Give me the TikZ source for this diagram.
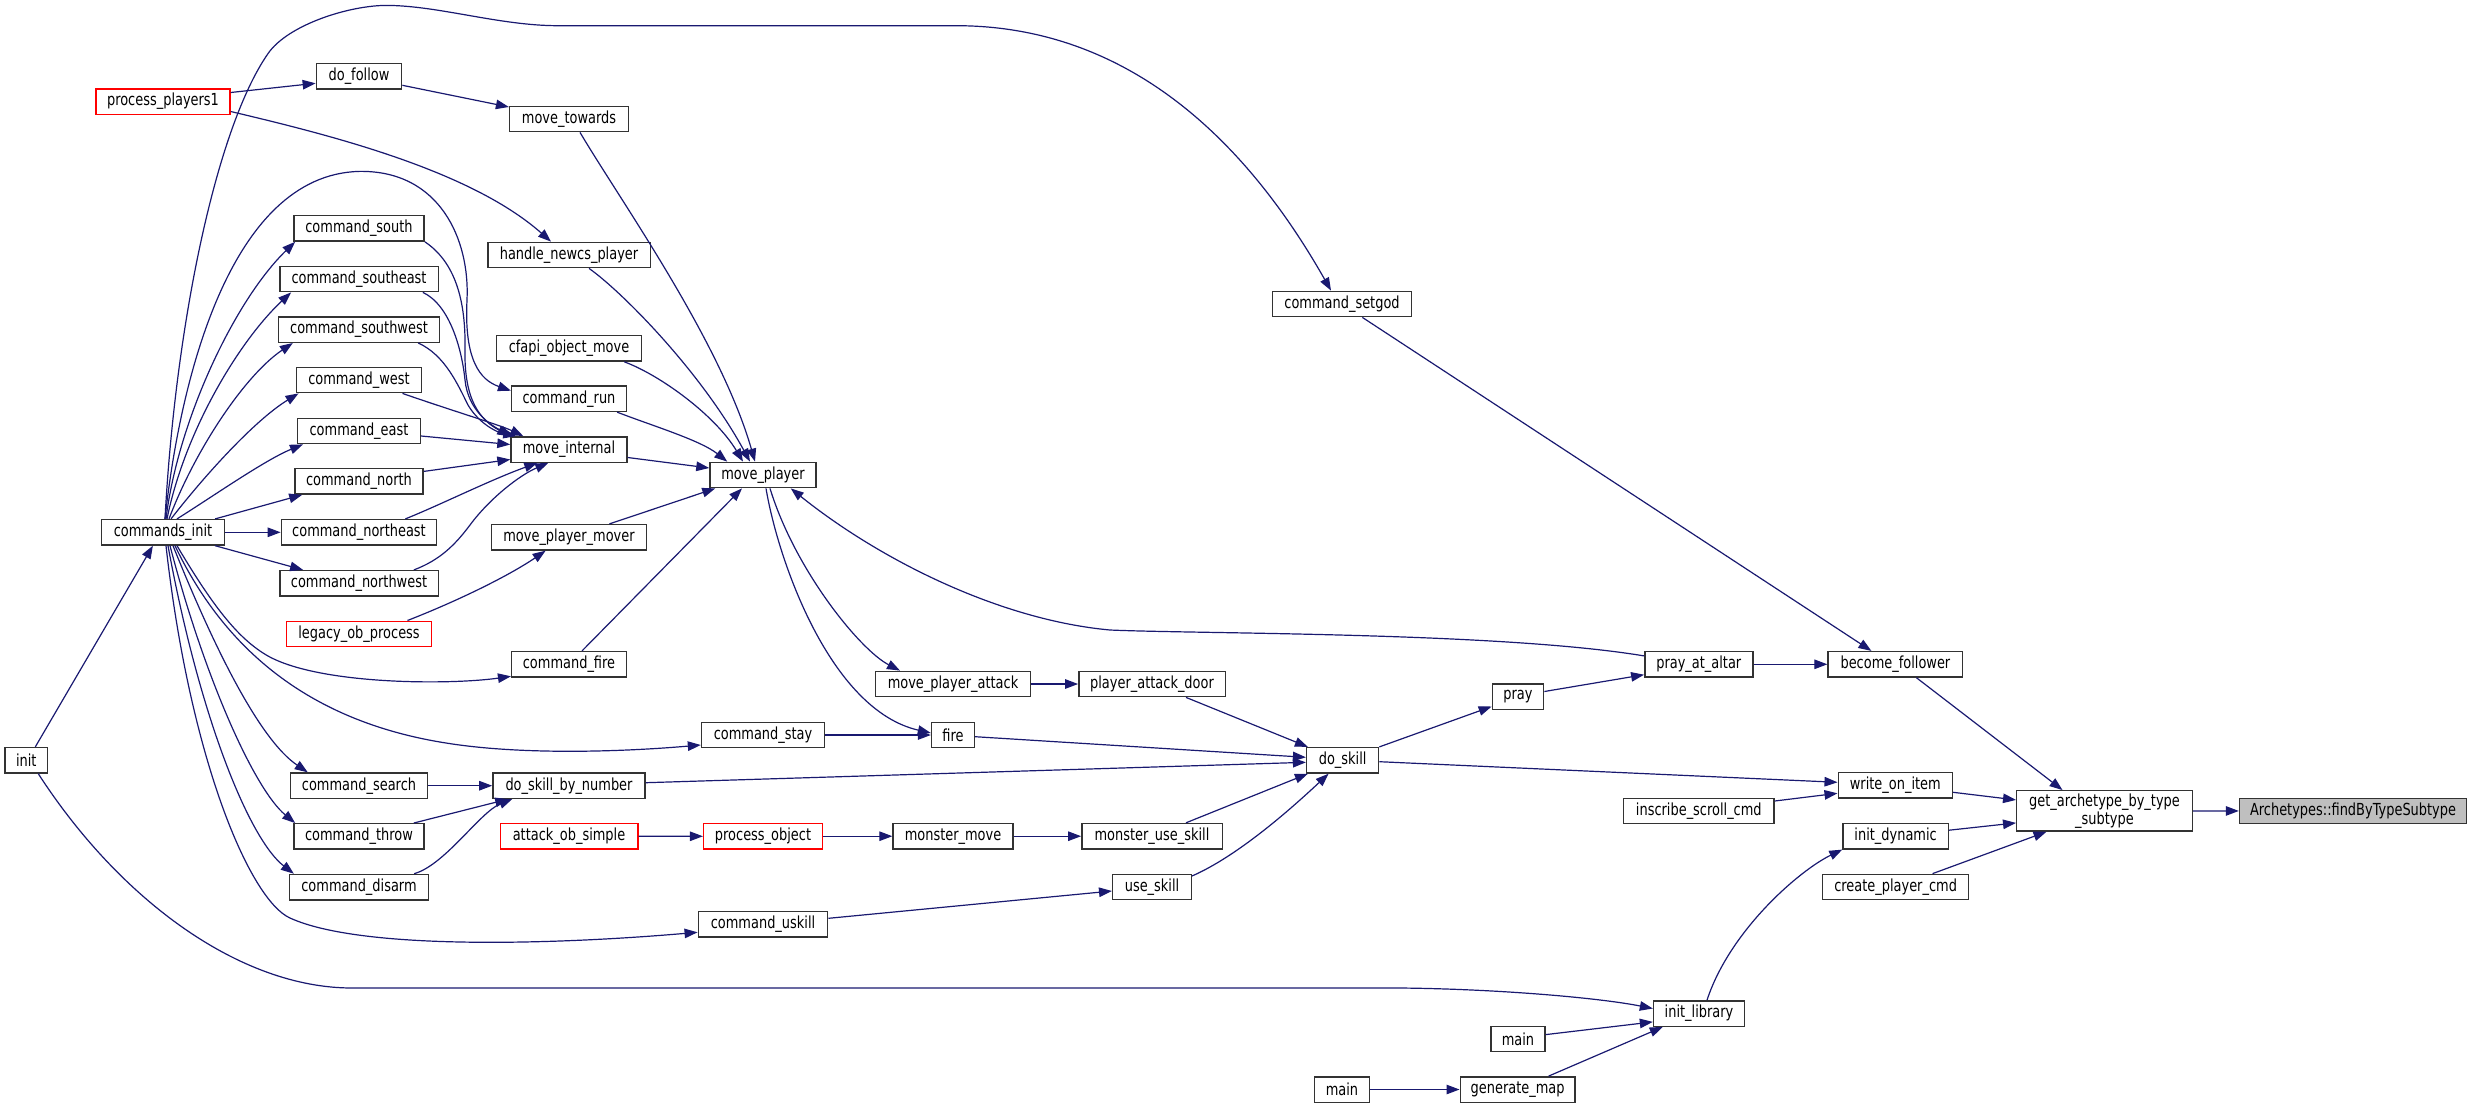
\documentclass[tikz,border=0pt]{standalone}
\usepackage{fontspec}
\setmainfont{DejaVu Sans}[FakeStretch=0.78]
\usetikzlibrary{arrows.meta,calc}
\definecolor{edgec}{HTML}{191970}
\definecolor{boxc}{HTML}{333333}
\definecolor{rootf}{HTML}{BFBFBF}
\begin{document}
\begin{tikzpicture}[x=1pt,y=-1pt,
  box/.style={draw=boxc, line width=1.4pt, fill=white, minimum height=25.4pt, inner sep=0pt, font=\fontsize{16.6}{14.7}\selectfont},
  redbox/.style={box, draw=red},
  edge/.style={draw=edgec, line width=1.2pt, -{Triangle[length=13pt,width=9.5pt]}}]
\useasboundingbox (0,0) rectangle (2472,1108);
% nodes
\node[box,minimum width=42.9] (init) at (26.3,760.3) {init};
\node[redbox,minimum width=134] (pp1) at (163,101.5) {process\_players1};
\node[box,minimum width=122.8] (cinit) at (163,532.3) {commands\_init};
\node[box,minimum width=85.3] (dofollow) at (359,76.3) {do\_follow};
\node[box,minimum width=130.3] (csouth) at (359,228.4) {command\_south};
\node[box,minimum width=158.4] (cse) at (359,279) {command\_southeast};
\node[box,minimum width=161] (csw) at (359,329.6) {command\_southwest};
\node[box,minimum width=125.5] (cwest) at (359,380) {command\_west};
\node[box,minimum width=122.7] (ceast) at (359,431) {command\_east};
\node[box,minimum width=128.2] (cnorth) at (359,481.4) {command\_north};
\node[box,minimum width=155.3] (cne) at (359,532.3) {command\_northeast};
\node[box,minimum width=158.4] (cnw) at (359,583.3) {command\_northwest};
\node[redbox,minimum width=145.5] (legacy) at (359,633.9) {legacy\_ob\_process};
\node[box,minimum width=137.1] (csearch) at (359,785.7) {command\_search};
\node[box,minimum width=130.3] (cthrow) at (359,836.4) {command\_throw};
\node[box,minimum width=138.9] (cdisarm) at (359,887.1) {command\_disarm};
\node[box,minimum width=118.8] (mtowards) at (569,119) {move\_towards};
\node[box,minimum width=162.4] (hnp) at (569,255) {handle\_newcs\_player};
\node[box,minimum width=145.1] (cfapi) at (569,348.4) {cfapi\_object\_move};
\node[box,minimum width=114.7] (crun) at (569,398.7) {command\_run};
\node[box,minimum width=116] (minternal) at (569,449.5) {move\_internal};
\node[box,minimum width=155.4] (mpm) at (569,537.3) {move\_player\_mover};
\node[box,minimum width=114.7] (cfire) at (569,664.3) {command\_fire};
\node[box,minimum width=152.2] (dsbn) at (569,785.7) {do\_skill\_by\_number};
\node[redbox,minimum width=137.6] (aos) at (569,836.4) {attack\_ob\_simple};
\node[box,minimum width=106.1] (mplayer) at (763,475) {move\_player};
\node[box,minimum width=123] (cstay) at (763,735) {command\_stay};
\node[redbox,minimum width=118.8] (pobj) at (763,836.2) {process\_object};
\node[box,minimum width=129.5] (cuskill) at (763,924.3) {command\_uskill};
\node[box,minimum width=154.6] (mpa) at (953,684) {move\_player\_attack};
\node[box,minimum width=42.9] (fire) at (953,735) {fire};
\node[box,minimum width=119.9] (mmove) at (953,836.2) {monster\_move};
\node[box,minimum width=146.4] (pad) at (1152,684) {player\_attack\_door};
\node[box,minimum width=140.4] (mus) at (1152,836.2) {monster\_use\_skill};
\node[box,minimum width=78.6] (useskill) at (1152,887) {use\_skill};
\node[box,minimum width=138.7] (csetgod) at (1342,304) {command\_setgod};
\node[box,minimum width=72] (doskill) at (1342.6,760.3) {do\_skill};
\node[box,minimum width=55.1] (mainA) at (1342,1089.5) {main};
\node[box,minimum width=51.3] (pray) at (1518,696.5) {pray};
\node[box,minimum width=54] (mainB) at (1518,1039) {main};
\node[box,minimum width=114.8] (genmap) at (1517.6,1089.5) {generate\_map};
\node[box,minimum width=108] (paa) at (1698.8,664.3) {pray\_at\_altar};
\node[box,minimum width=150.4] (isc) at (1698.8,811) {inscribe\_scroll\_cmd};
\node[box,minimum width=91] (initlib) at (1699,1013.5) {init\_library};
\node[box,minimum width=134.7] (bfollow) at (1895.4,664.3) {become\_follower};
\node[box,minimum width=114.2] (woi) at (1895.3,785.3) {write\_on\_item};
\node[box,minimum width=105.3] (idyn) at (1895.6,836.2) {init\_dynamic};
\node[box,minimum width=146.3] (cpc) at (1895.6,887) {create\_player\_cmd};
\node[box,minimum width=175.6,minimum height=40.3,align=center] (garch) at (2104.5,810.9) {get\_archetype\_by\_type\\\_subtype};
\node[box,fill=rootf,minimum width=227] (arch) at (2353,811) {Archetypes::findByTypeSubtype};
% right side edges
\draw[edge] (garch) -- (arch);
\draw[edge] ($(bfollow.south)+(21,0)$) -- ($(garch.north)+(-42,0)$);
\draw[edge] ($(woi.east)+(0,7)$) -- ($(garch.west)+(0,-11)$);
\draw[edge] ($(idyn.east)+(0,-6)$) -- ($(garch.west)+(0,12)$);
\draw[edge] ($(cpc.north)+(37,0)$) -- ($(garch.south)+(-58,0)$);
\draw[edge] (paa) -- (bfollow);
\draw[edge] (csetgod) -- ($(bfollow.north)+(-24,0)$);
\draw[edge] ($(pray.east)+(0,-5)$) -- ($(paa.south west)+(0,-3)$);
\draw[edge] (doskill.north east) -- ($(pray.west)+(0,10)$);
\draw[edge] ($(doskill.east)+(0,1.4)$) -- ($(woi.west)+(0,-3)$);
\draw[edge] ($(isc.east)+(0,-10)$) -- ($(woi.west)+(0,8)$);
\draw[edge] ($(paa.north west)+(0,5)$) .. controls (1500,632) and (1200,634) .. (1110,630) .. controls (1000,620) and (880,560) .. ($(mplayer.south east)+(-26,0)$);
\draw[edge] ($(mplayer.south)+(7,0)$) .. controls (795,570) and (860,650) .. ($(mpa.north)+(-53,0)$);
\draw[edge] (mpa) -- (pad);
\draw[edge] ($(pad.south)+(34,0)$) -- ($(doskill.north west)+(2,0)$);
\draw[edge] ($(mplayer.south)+(3,0)$) .. controls (778,560) and (830,710) .. ($(fire.west)+(0,-2)$);
\draw[edge] (cstay) -- (fire);
\draw[edge] ($(fire.east)+(0,1.7)$) -- ($(doskill.west)+(0,-3)$);
\draw[edge] ($(dsbn.east)+(0,-3)$) -- ($(doskill.west)+(0,2)$);
\draw[edge] ($(mus.north)+(34,0)$) -- ($(doskill.south west)+(2,0)$);
\draw[edge] ($(useskill.east)+(0,-11)$) .. controls (1240,855) and (1295,805) .. ($(doskill.south)+(-14,0)$);
\draw[edge] (aos) -- (pobj);
\draw[edge] (pobj) -- (mmove);
\draw[edge] (mmove) -- (mus);
\draw[edge] ($(cuskill.east)+(0,-6)$) -- ($(useskill.west)+(0,4)$);
\draw[edge] (mainA) -- (genmap);
\draw[edge] ($(mainB.east)+(0,-4.4)$) -- ($(initlib.west)+(0,8.4)$);
\draw[edge] ($(genmap.north)+(31,0)$) -- ($(initlib.south west)+(10,0)$);
\draw[edge] ($(initlib.north)+(8,0)$) .. controls (1730,930) and (1800,870) .. (idyn.south west);
% left side edges
\draw[edge] ($(init.north)+(9,0)$) -- ($(cinit.south west)+(52,0)$);
\draw[edge] ($(init.south)+(12,0)$) .. controls (120,900) and (240,988) .. (352,988) -- (1400,988) .. controls (1500,989) and (1600,998) .. ($(initlib.west)+(0,-5)$);
\draw[edge] ($(pp1.east)+(0,-9)$) -- ($(dofollow.west)+(0,7)$);
\draw[edge] ($(dofollow.east)+(0,9)$) -- ($(mtowards.west)+(0,-12)$);
\draw[edge] ($(pp1.east)+(0,10)$) .. controls (330,135) and (470,170) .. ($(hnp.north)+(-18,0)$);
\draw[edge] ($(cinit.north)+(2,0)$) .. controls (175,330) and (215,130) .. (268,53.6) .. controls (288,24.6) and (350,5) .. (388,5.4) .. controls (440,6) and (500,25.7) .. (558,25.7) -- (956,25.7) .. controls (1120,25.7) and (1240,130) .. ($(csetgod.north)+(-11,0)$);
\draw[edge] ($(cinit.north)+(3,0)$) .. controls (178,420) and (235,300) .. ($(csouth.south west)+(2,0)$);
\draw[edge] ($(cinit.north)+(4,0)$) .. controls (185,430) and (240,340) .. ($(cse.south west)+(12,0)$);
\draw[edge] ($(cinit.north)+(6,0)$) .. controls (195,450) and (245,375) .. ($(csw.south west)+(15,0)$);
\draw[edge] ($(cinit.north)+(8,0)$) .. controls (205,475) and (255,420) .. ($(cwest.south west)+(3,0)$);
\draw[edge] ($(cinit.north)+(14,0)$) .. controls (215,495) and (265,460) .. ($(ceast.south west)+(6,0)$);
\draw[edge] ($(cinit.north east)+(-10,0)$) -- ($(cnorth.south west)+(8,0)$);
\draw[edge] (cinit) -- (cne);
\draw[edge] ($(cinit.south east)+(-10,0)$) -- ($(cnw.north west)+(24,0)$);
\draw[edge] ($(cinit.north)+(2,0)$) .. controls (180,380) and (230,175) .. (359,171.4) .. controls (440,170) and (470,240) .. (467,300) .. controls (464,360) and (480,380) .. ($(crun.west)+(0,-8)$);
\draw[edge] ($(cinit.south)+(14,0)$) .. controls (215,610) and (240,640) .. (268,656) .. controls (320,685) and (450,685) .. ($(cfire.west)+(0,12)$);
\draw[edge] ($(cinit.south)+(12,0)$) .. controls (220,640) and (300,720) .. (446,743) .. controls (520,755) and (620,752) .. ($(cstay.west)+(0,10)$);
\draw[edge] ($(cinit.south)+(10,0)$) .. controls (215,650) and (260,740) .. ($(csearch.north west)+(18,0)$);
\draw[edge] ($(cinit.south)+(7,0)$) .. controls (205,680) and (255,790) .. ($(cthrow.north west)+(2,0)$);
\draw[edge] ($(cinit.south)+(5,0)$) .. controls (200,720) and (250,840) .. ($(cdisarm.north west)+(5,0)$);
\draw[edge] ($(cinit.south)+(3,0)$) .. controls (190,760) and (250,900) .. (290,918) .. controls (360,950) and (550,945) .. ($(cuskill.west)+(0,8)$);
% into move_internal
\draw[edge] (csouth.south east) .. controls (455,262) and (466,300) .. (465,350) .. controls (464,400) and (480,420) .. (minternal.north west);
\draw[edge] ($(cse.south east)+(-16,0)$) .. controls (450,305) and (462,350) .. (465,380) .. controls (468,410) and (490,425) .. ($(minternal.north west)+(2,0)$);
\draw[edge] ($(csw.south east)+(-22,0)$) .. controls (445,355) and (458,385) .. (468,405) .. controls (478,422) and (495,432) .. ($(minternal.north west)+(6,0)$);
\draw[edge] ($(cwest.south east)+(-20,0)$) .. controls (450,410) and (500,425) .. ($(minternal.north west)+(13,0)$);
\draw[edge] ($(ceast.east)+(0,5)$) -- ($(minternal.west)+(0,-5)$);
\draw[edge] ($(cnorth.east)+(0,-10)$) -- ($(minternal.west)+(0,10)$);
\draw[edge] ($(cne.north east)+(-32,0)$) .. controls (440,505) and (490,480) .. ($(minternal.south west)+(27,0)$);
\draw[edge] ($(cnw.north east)+(-25,0)$) .. controls (440,560) and (455,545) .. (470,525) .. controls (490,498) and (520,475) .. ($(minternal.south west)+(38,0)$);
% into move_player
\draw[edge] ($(legacy.north east)+(-25,0)$) .. controls (460,600) and (510,575) .. ($(mpm.south west)+(55,0)$);
\draw[edge] ($(mpm.north east)+(-38,0)$) -- ($(mplayer.south west)+(6,0)$);
\draw[edge] ($(cfire.north)+(13,0)$) -- ($(mplayer.south)+(-21,0)$);
\draw[edge] ($(minternal.east)+(0,8)$) -- ($(mplayer.west)+(0,-7)$);
\draw[edge] ($(crun.south east)+(-10,0)$) .. controls (650,425) and (700,440) .. ($(mplayer.north west)+(18,0)$);
\draw[edge] ($(cfapi.south east)+(-18,0)$) .. controls (660,375) and (715,415) .. ($(mplayer.north)+(-20,0)$);
\draw[edge] ($(hnp.south)+(20,0)$) .. controls (620,290) and (700,370) .. ($(mplayer.north)+(-13,0)$);
\draw[edge] ($(mtowards.south)+(11,0)$) .. controls (620,200) and (720,340) .. ($(mplayer.north)+(-8,0)$);
% into do_skill_by_number
\draw[edge] (csearch) -- (dsbn);
\draw[edge] ($(cthrow.north east)+(-11,0)$) -- ($(dsbn.south west)+(16,0)$);
\draw[edge] ($(cdisarm.north east)+(-15,0)$) .. controls (445,865) and (480,812) .. ($(dsbn.south west)+(20,0)$);
\end{tikzpicture}
\end{document}
